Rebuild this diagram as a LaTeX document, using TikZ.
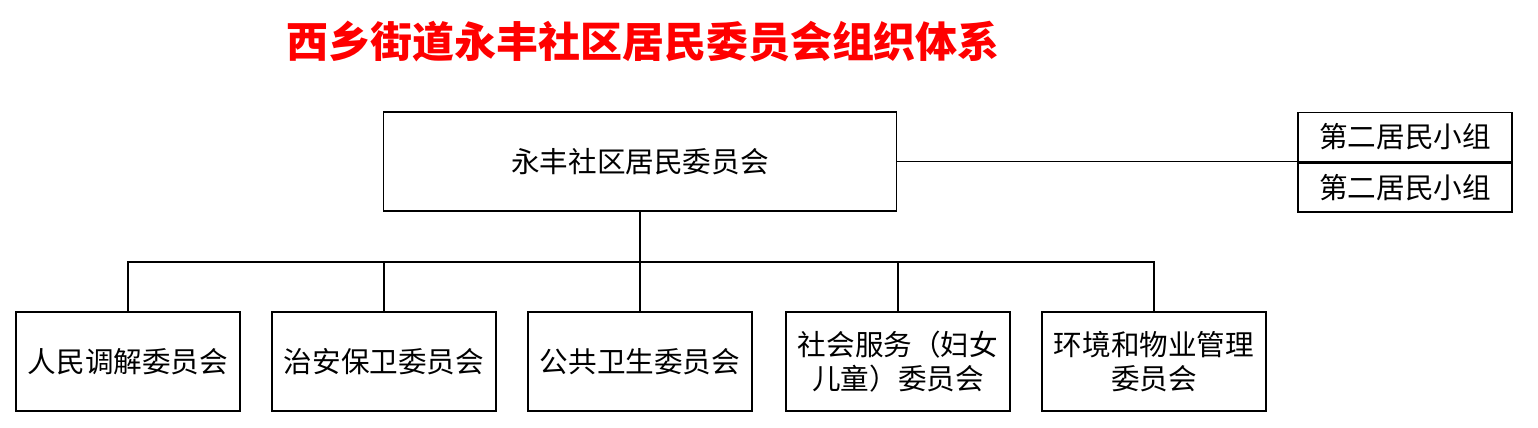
\documentclass[tikz,border=0pt]{standalone}
\usepackage{fontspec}
\setmainfont{Noto Sans CJK SC}
\usetikzlibrary{positioning}
\tikzset{basic/.style={draw,thick,inner sep=0pt,align=center,font=\fontsize{14.3}{17}\selectfont}}
\tikzset{branch/.style={basic,minimum width=112pt,minimum height=49.5pt}}
\tikzset{group/.style={basic,minimum width=107pt,minimum height=24.5pt}}

\begin{document}
\begin{tikzpicture}[x=0.5pt,y=-0.5pt]
\useasboundingbox (0,0) rectangle (1538,428);

% Title
\node[text=red,font=\fontsize{21}{24}\selectfont\bfseries] (title) at (643,42) {西乡街道永丰社区居民委员会组织体系};

% Main committee
\node[basic,minimum width=256.5pt,minimum height=49.5pt] (main) at (640,161.5) {永丰社区居民委员会};

% Resident groups
\node[group] (g1) at (1405,137) {第二居民小组};
\node[group,below=0pt of g1] (g2) {第二居民小组};
\path[draw,thick] (main.east) -- (main.east -| g1.west);

% Sub committees
\node[branch] (c1) at (128,361.5) {人民调解委员会};
\node[branch] (c2) at (384,361.5) {治安保卫委员会};
\node[branch] (c3) at (640,361.5) {公共卫生委员会};
\node[branch] (c4) at (898,361.5) {社会服务（妇女\\儿童）委员会};
\node[branch] (c5) at (1154,361.5) {环境和物业管理\\委员会};

% Draw bus lines
\coordinate (bus) at (640,262);
\path[draw,thick] (main.south) -- (bus);
\path[draw,thick] (c1.north) |- (bus);
\path[draw,thick] (c5.north) |- (bus);
\path[draw,thick] (c2.north) -- (c2.north |- bus);
\path[draw,thick] (c3.north) -- (bus);
\path[draw,thick] (c4.north) -- (c4.north |- bus);

\end{tikzpicture}
\end{document}
